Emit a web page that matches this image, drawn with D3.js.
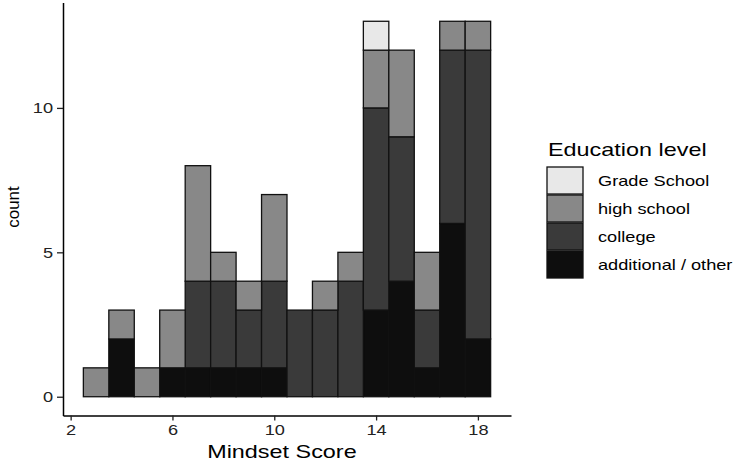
<!DOCTYPE html>
<html>
<head>
<meta charset="utf-8">
<script src="https://cdn.jsdelivr.net/npm/d3@7"></script>
<style>
  body { margin: 0; background: #fff; }
  text { font-family: "Liberation Sans", Arial, sans-serif; }
</style>
</head>
<body>
<svg id="chart" width="747" height="460"></svg>
<script>
// bin centres of the histogram (binwidth 1)
const scores = [3, 4, 5, 6, 7, 8, 9, 10, 11, 12, 13, 14, 15, 16, 17, 18];
// counts per education level
const gradeSchool = [0, 0, 0, 0, 0, 0, 0, 0, 0, 0, 0, 1, 0, 0, 0, 0];
const highSchool  = [1, 1, 1, 2, 4, 1, 1, 3, 0, 1, 1, 2, 3, 2, 1, 1];
const college     = [0, 0, 0, 0, 3, 3, 2, 3, 3, 3, 4, 7, 5, 2, 6, 10];
const additional  = [0, 2, 0, 1, 1, 1, 1, 1, 0, 0, 0, 3, 4, 1, 6, 2];
const xTicks = [2, 6, 10, 14, 18];
const yTicks = [0, 5, 10];

const levels = ["Grade School", "high school", "college", "additional / other"];
const colours = {"Grade School": "#e8e8e8", "high school": "#888888",
                 "college": "#3a3a3a", "additional / other": "#0e0e0e"};

const rows = scores.map((s, i) => ({
  score: s,
  "Grade School": gradeSchool[i],
  "high school": highSchool[i],
  "college": college[i],
  "additional / other": additional[i]
}));

const SX = 1.3; // the reference text is stretched sideways

const svg = d3.select("#chart");
const x = d3.scaleLinear().domain([1.7, 19.3]).range([63, 511]);
const y = d3.scaleLinear().domain([-0.65, 13.65]).range([415.5, 2.5]);

// stack bottom to top: additional, college, high school, grade school
const stack = d3.stack().keys(levels.slice().reverse());
const series = stack(rows);

svg.append("g").selectAll("g")
  .data(series)
  .enter().append("g")
  .attr("fill", d => colours[d.key])
  .selectAll("rect")
  .data(d => d.filter(p => p[1] > p[0]))
  .enter().append("rect")
  .attr("x", d => x(d.data.score - 0.5))
  .attr("width", d => x(d.data.score + 0.5) - x(d.data.score - 0.5))
  .attr("y", d => y(d[1]))
  .attr("height", d => y(d[0]) - y(d[1]))
  .attr("stroke", "#111")
  .attr("stroke-width", 1.3);

// axes
const yAxis = svg.append("g").attr("transform", "translate(63,0)")
  .call(d3.axisLeft(y).tickValues(yTicks).tickSize(6).tickSizeOuter(0));
const xAxis = svg.append("g").attr("transform", "translate(0,415.5)")
  .call(d3.axisBottom(x).tickValues(xTicks).tickSize(5).tickSizeOuter(0));

[yAxis, xAxis].forEach(a => {
  a.select(".domain").attr("stroke", "#000").attr("stroke-width", 1.5);
  a.selectAll(".tick line").attr("stroke", "#222").attr("stroke-width", 1.3);
  a.selectAll(".tick text").attr("font-size", 14).attr("fill", "#222")
    .attr("font-family", "Liberation Sans, Arial, sans-serif");
});
yAxis.selectAll(".tick text").attr("x", -10 / SX).attr("dy", "0.36em")
  .attr("transform", `scale(${SX},1)`);
xAxis.selectAll(".tick text").attr("y", 9).attr("dy", "0.75em")
  .attr("transform", `scale(${SX},1)`);

// axis titles
svg.append("text")
  .attr("transform", `translate(${x(10.3)},458) scale(${SX},1)`)
  .attr("text-anchor", "middle").attr("font-size", 18).attr("fill", "#000")
  .text("Mindset Score");
svg.append("text")
  .attr("transform", "translate(19,207) rotate(-90)")
  .attr("text-anchor", "middle").attr("font-size", 17).attr("fill", "#000")
  .text("count");

// legend
const lg = svg.append("g").attr("transform", "translate(547,0)");
lg.append("text").attr("transform", `translate(1,156) scale(${SX},1)`)
  .attr("font-size", 18).attr("fill", "#000").text("Education level");
const item = lg.selectAll(".item").data(levels).enter().append("g")
  .attr("transform", (d, i) => `translate(0,${167 + i * 28})`);
item.append("rect").attr("width", 36).attr("height", 27)
  .attr("fill", d => colours[d]).attr("stroke", "#111").attr("stroke-width", 1.3);
item.append("text").attr("transform", `translate(51,19) scale(${SX},1)`)
  .attr("font-size", 14).attr("fill", "#000").text(d => d);
</script>
</body>
</html>
